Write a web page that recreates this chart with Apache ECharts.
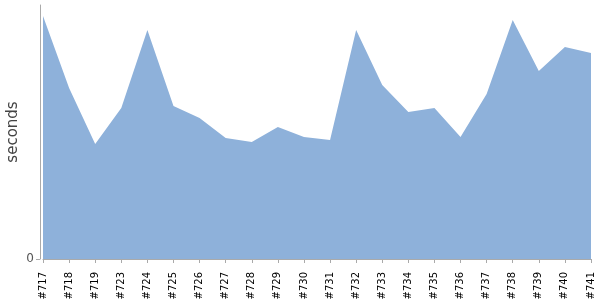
<!DOCTYPE html>
<html><head><meta charset="utf-8">
<script src="https://cdn.jsdelivr.net/npm/echarts@6/dist/echarts.min.js"></script>
<style>html,body{margin:0;padding:0;background:#fff}#c{width:600px;height:300px}</style>
</head><body><div id="c"></div>
<script>
const categories = ['#717','#718','#719','#723','#724','#725','#726','#727','#728','#729','#730','#731','#732','#733','#734','#735','#736','#737','#738','#739','#740','#741'];
const seconds = [243,171,115,151,229,153,141,121,117,132,122,119,229,174,147,151,122,165,239,188,212,206];
const yMax = 254;

const chart = echarts.init(document.getElementById('c'), null, {renderer:'canvas'});
chart.setOption({
  animation:false,
  grid:{left:43,right:9,top:5,bottom:41,containLabel:false,outerBoundsMode:'none'},
  xAxis:{
    type:'category', data:categories, boundaryGap:false, offset:3,
    axisLine:{lineStyle:{color:'#aaaaaa',width:1}},
    axisTick:{alignWithLabel:true,length:4,lineStyle:{color:'#aaaaaa'}},
    axisLabel:{rotate:90,interval:0,color:'#000',fontFamily:'DejaVu Sans',fontSize:10,margin:10}
  },
  yAxis:{
    type:'value', min:0, max:yMax, interval:yMax, offset:3,
    name:'seconds', nameLocation:'middle', nameGap:19, nameMoveOverlap:false,
    nameTextStyle:{fontFamily:'DejaVu Sans',fontSize:15,color:'#444'},
    axisLine:{show:true,lineStyle:{color:'#aaaaaa'}},
    axisTick:{show:true,length:4,lineStyle:{color:'#aaaaaa'},customValues:[0]},
    splitLine:{show:false},
    axisLabel:{color:'#555',fontFamily:'DejaVu Sans',fontSize:12,margin:6,customValues:[0],
      formatter:v=>v===0?'0':''}
  },
  series:[{
    type:'line', data:seconds, symbol:'none',
    lineStyle:{width:0},
    areaStyle:{color:'#8eb1da',opacity:1}
  }]
});
</script></body></html>
